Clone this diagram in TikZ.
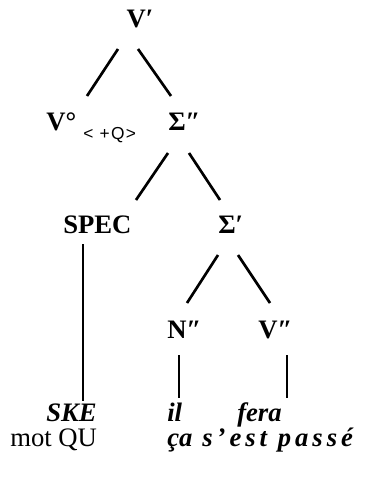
\documentclass[tikz,border=0pt]{standalone}
\usepackage{fontspec}
\setmainfont{Liberation Serif}
\newfontfamily\featsf{Liberation Sans}
\begin{document}
\begin{tikzpicture}[x=0.75pt,y=-0.75pt,
  lab/.style={font=\fontsize{20}{24}\selectfont\bfseries, inner sep=0pt},
  leaf/.style={font=\fontsize{20}{24}\selectfont\bfseries\itshape, inner sep=0pt, anchor=base west},
  word/.style={font=\fontsize{20}{24}\selectfont, inner sep=0pt, anchor=base west},
  branch/.style={line width=2pt}]
\useasboundingbox (0,0) rectangle (379,479);
% labels
\node[lab] (Vp) at (140,19) {V′};
\node[lab,anchor=base west] (V0) at (46,130) {V°};
\node[anchor=base west,inner sep=0pt,font=\featsf\fontsize{13}{15}\selectfont\addfontfeature{LetterSpace=8}] (feat) at (83,139) {< +Q>};
\node[lab,anchor=base west] (Spp) at (168,130) {Σ″};
\node[lab,anchor=base west] (SPEC) at (63,233) {SPEC};
\node[lab,anchor=base west] (Sp) at (218,233) {Σ′};
\node[lab,anchor=base west] (Npp) at (167,338) {N″};
\node[lab,anchor=base west] (Vpp) at (258,338) {V″};
% leaves
\node[leaf,anchor=base east] (SKE) at (97,421) {SKE};
\node[word] (motQU) at (10,446) {mot QU};
\node[leaf] (il) at (167,421) {il};
\node[leaf] (ca) at (167,446) {ça};
\node[leaf] (fera) at (237,421) {fera};
\node[leaf,font=\fontsize{20}{24}\selectfont\bfseries\itshape\addfontfeature{LetterSpace=15}] (passe) at (202,446) {s’est passé};
% connector ends
\coordinate (a1) at (118,49); \coordinate (a2) at (87,96);
\coordinate (b1) at (138,49); \coordinate (b2) at (171,96);
\coordinate (c1) at (168,153); \coordinate (c2) at (136,200);
\coordinate (d1) at (189,153); \coordinate (d2) at (220,200);
\coordinate (e1) at (83,244); \coordinate (e2) at (83,401);
\coordinate (f1) at (218,255); \coordinate (f2) at (187,303);
\coordinate (g1) at (238,255); \coordinate (g2) at (270,303);
\coordinate (h1) at (179,355); \coordinate (h2) at (179,398);
\coordinate (k1) at (287,355); \coordinate (k2) at (287,398);
\draw[branch] (a1) -- (a2);
\draw[branch] (b1) -- (b2);
\draw[branch] (c1) -- (c2);
\draw[branch] (d1) -- (d2);
\draw[branch] (e1) -- (e2);
\draw[branch] (f1) -- (f2);
\draw[branch] (g1) -- (g2);
\draw[branch] (h1) -- (h2);
\draw[branch] (k1) -- (k2);
\end{tikzpicture}
\end{document}
